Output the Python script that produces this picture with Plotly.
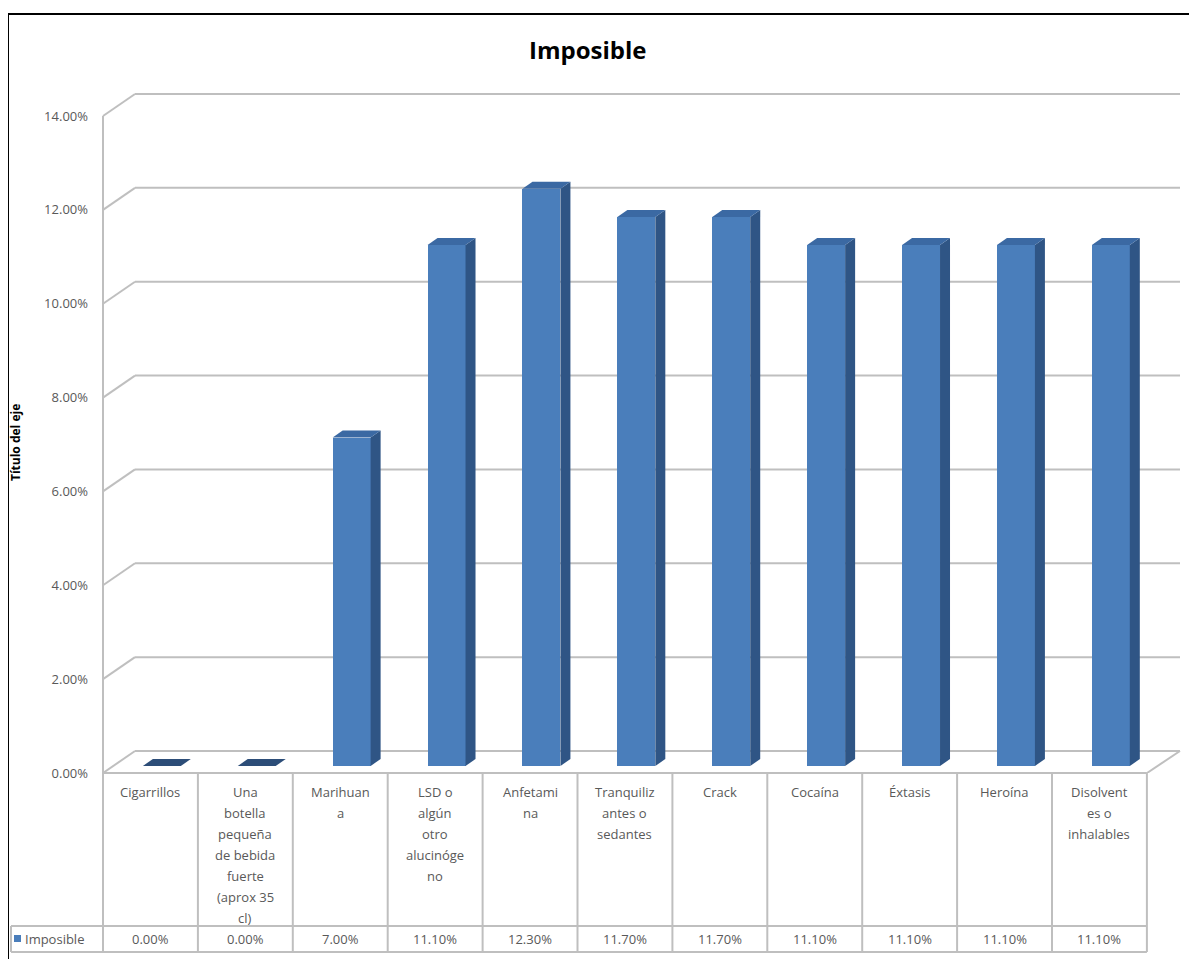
import plotly.graph_objects as go

# ---------------- data ----------------
CATEGORY_LINES = [
    ["Cigarrillos"],
    ["Una", "botella", "pequeña", "de bebida", "fuerte", "(aprox 35", "cl)"],
    ["Marihuan", "a"],
    ["LSD o", "algún", "otro", "alucinóge", "no"],
    ["Anfetami", "na"],
    ["Tranquiliz", "antes o", "sedantes"],
    ["Crack"],
    ["Cocaína"],
    ["Éxtasis"],
    ["Heroína"],
    ["Disolvent", "es o", "inhalables"],
]
VALUES = [0.00, 0.00, 7.00, 11.10, 12.30, 11.70, 11.70, 11.10, 11.10, 11.10, 11.10]
SERIES_NAME = "Imposible"
TITLE = "Imposible"
Y_TICKS = [0, 2, 4, 6, 8, 10, 12, 14]
Y_TITLE = "Título del eje"

# ---------------- geometry (reference pixels) ----------------
PAGE_OFF = 8                     # browser body margin
W, H = 1197 - PAGE_OFF, 959 - PAGE_OFF
L_PX, R_PX = 103, 1185          # plot area left/right (reference px)
T_PX, B_PX = 80, 773            # plot area top/bottom (bottom = 0%)
PX_PER_UNIT_X = 94.9
PX_PER_PCT = (773 - 116) / 14.0
X0 = -0.5
X1 = X0 + (R_PX - L_PX) / PX_PER_UNIT_X
Y1 = (B_PX - T_PX) / PX_PER_PCT

def px_x(p):
    return (p - L_PX) / (R_PX - L_PX)

def px_y(p):
    return (B_PX - p) / (B_PX - T_PX)

# 3D look parameters
BASE = 7 / PX_PER_PCT            # bars sit slightly behind the front edge
BAR_W = 0.4
BAR_OFF = 0.12
DX = 10 / PX_PER_UNIT_X
DY = 7 / PX_PER_PCT
WALL_DX_PX = 32
WALL_DY = 22 / PX_PER_PCT

FRONT = "#4A7EBB"
SIDE = "#2F5585"
TOP = "#3B69A3"
TEXT = "#595959"
GRID = "#BFBFBF"
FONT = "Open Sans"

n = len(VALUES)
xs = list(range(n))

fig = go.Figure()

# front faces
fig.add_trace(go.Bar(
    x=[x + BAR_OFF for x in xs], y=VALUES, base=BASE, width=BAR_W,
    marker=dict(color=FRONT, line=dict(width=0)), name=SERIES_NAME,
    showlegend=False,
))

# side faces and top faces computed from the values
for x, v in zip(xs, VALUES):
    xl = x + BAR_OFF - BAR_W / 2
    xr = x + BAR_OFF + BAR_W / 2
    yt = BASE + v
    if v > 0:
        fig.add_trace(go.Scatter(
            x=[xr, xr + DX, xr + DX, xr, xr],
            y=[BASE, BASE + DY, yt + DY, yt, BASE],
            fill="toself", fillcolor=SIDE, mode="lines",
            line=dict(width=0, color=SIDE), showlegend=False, hoverinfo="skip"))
    fig.add_trace(go.Scatter(
        x=[xl, xr, xr + DX, xl + DX, xl],
        y=[yt, yt, yt + DY, yt + DY, yt],
        fill="toself", fillcolor=TOP if v > 0 else "#2C4D78", mode="lines",
        line=dict(width=0, color=TOP), showlegend=False, hoverinfo="skip"))

shapes = []
# back wall grid lines (with perspective diagonals)
for t in Y_TICKS:
    shapes.append(dict(type="line", xref="paper", yref="y",
                       x0=px_x(L_PX), y0=t, x1=px_x(L_PX + WALL_DX_PX), y1=t + WALL_DY,
                       line=dict(color=GRID, width=2), layer="below"))
    shapes.append(dict(type="line", xref="paper", yref="y",
                       x0=px_x(L_PX + WALL_DX_PX), y0=t + WALL_DY,
                       x1=px_x(1180), y1=t + WALL_DY,
                       line=dict(color=GRID, width=2), layer="below"))
# floor right diagonal
shapes.append(dict(type="line", xref="paper", yref="y",
                   x0=px_x(1147), y0=0, x1=px_x(1180), y1=WALL_DY,
                   line=dict(color=GRID, width=2), layer="below"))
# front vertical axis line
shapes.append(dict(type="line", xref="paper", yref="y",
                   x0=0, y0=0, x1=0, y1=14,
                   line=dict(color=GRID, width=2), layer="below"))

# data table grid
TBL_TOP, TBL_MID, TBL_BOT = 773, 926, 952
TBL_LEFT = 11
col_edges = [L_PX + i * PX_PER_UNIT_X for i in range(n + 1)]
shapes.append(dict(type="line", xref="paper", yref="paper",
                   x0=px_x(L_PX), y0=px_y(TBL_TOP), x1=px_x(col_edges[-1]), y1=px_y(TBL_TOP),
                   line=dict(color=GRID, width=2)))
for yy in (TBL_MID, TBL_BOT):
    shapes.append(dict(type="line", xref="paper", yref="paper",
                       x0=px_x(TBL_LEFT), y0=px_y(yy), x1=px_x(col_edges[-1]), y1=px_y(yy),
                       line=dict(color=GRID, width=2)))
for e in col_edges:
    shapes.append(dict(type="line", xref="paper", yref="paper",
                       x0=px_x(e), y0=px_y(TBL_TOP), x1=px_x(e), y1=px_y(TBL_BOT),
                       line=dict(color=GRID, width=2)))
shapes.append(dict(type="line", xref="paper", yref="paper",
                   x0=px_x(TBL_LEFT), y0=px_y(TBL_MID), x1=px_x(TBL_LEFT), y1=px_y(TBL_BOT),
                   line=dict(color=GRID, width=2)))
# legend key square
shapes.append(dict(type="rect", xref="paper", yref="paper",
                   x0=px_x(14), y0=px_y(942), x1=px_x(21), y1=px_y(935),
                   fillcolor=FRONT, line=dict(width=0)))
# outer black frame (top and left)
shapes.append(dict(type="line", xref="paper", yref="paper",
                   x0=px_x(8), y0=px_y(14), x1=px_x(1200), y1=px_y(14),
                   line=dict(color="black", width=2)))
shapes.append(dict(type="line", xref="paper", yref="paper",
                   x0=px_x(8), y0=px_y(14), x1=px_x(8), y1=px_y(965),
                   line=dict(color="black", width=2)))

annotations = []
# category labels in the table
LINE_H = 21
for x, lines in zip(xs, CATEGORY_LINES):
    for k, line in enumerate(lines):
        annotations.append(dict(
            x=x, xref="x", y=px_y(792 + k * LINE_H), yref="paper",
            text=line, showarrow=False, xanchor="center", yanchor="middle",
            font=dict(family=FONT, size=13, color=TEXT)))
# values row
for x, v in zip(xs, VALUES):
    annotations.append(dict(
        x=x, xref="x", y=px_y(939), yref="paper",
        text=f"{v:.2f}%", showarrow=False, xanchor="center", yanchor="middle",
        font=dict(family=FONT, size=13, color=TEXT)))
# legend name
annotations.append(dict(
    x=px_x(23), xref="paper", y=px_y(939), yref="paper", text=SERIES_NAME,
    showarrow=False, xanchor="left", yanchor="middle",
    font=dict(family=FONT, size=13, color=TEXT)))
# title
annotations.append(dict(
    x=px_x(588), xref="paper", y=px_y(50), yref="paper", text=f"<b>{TITLE}</b>",
    showarrow=False, xanchor="center", yanchor="middle",
    font=dict(family=FONT, size=24, color="black")))
# y axis title (partly hidden by the frame in the reference)
annotations.append(dict(
    x=px_x(15), xref="paper", y=px_y(443), yref="paper", text=f"<b>{Y_TITLE}</b>",
    showarrow=False, xanchor="center", yanchor="middle", textangle=-90,
    font=dict(family=FONT, size=12, color="black")))

fig.update_layout(
    width=W, height=H,
    margin=dict(l=L_PX - PAGE_OFF, r=W - (R_PX - PAGE_OFF),
                t=T_PX - PAGE_OFF, b=H - (B_PX - PAGE_OFF)),
    paper_bgcolor="white", plot_bgcolor="white",
    showlegend=False,
    bargap=0,
    xaxis=dict(range=[X0, X1], showgrid=False, zeroline=False, showticklabels=False,
               showline=False, fixedrange=True),
    yaxis=dict(range=[0, Y1], showgrid=False, zeroline=False, showline=False,
               tickvals=Y_TICKS, ticktext=[f"{t:.2f}%" for t in Y_TICKS],
               tickfont=dict(family=FONT, size=13, color=TEXT),
               ticks="", ticklabelstandoff=14, fixedrange=True),
    shapes=shapes,
    annotations=annotations,
    font=dict(family=FONT),
)

fig.write_html("out.html")
